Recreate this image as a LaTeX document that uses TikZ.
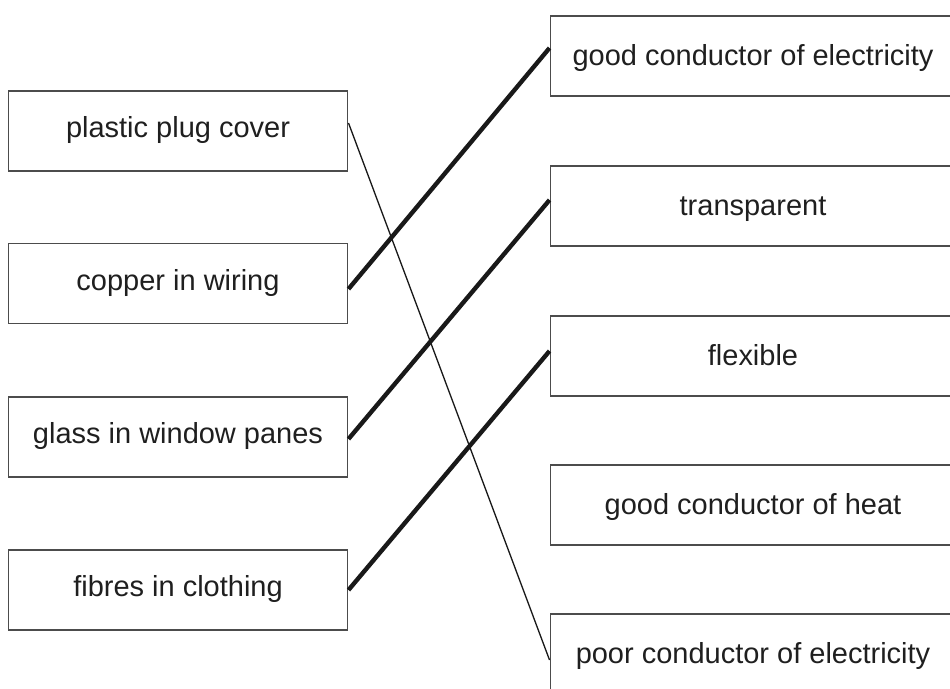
\documentclass[tikz,border=0pt]{standalone}
\usepackage{fontspec}
\setmainfont{Liberation Sans}
\usetikzlibrary{calc}
\tikzset{
	answerbox/.style={draw=black!70, line width=0.6pt, minimum height=1.6cm, inner sep=0pt,
		text height=11.9pt, text depth=4.5pt, text=black!88, font=\fontsize{16.5}{20}\selectfont},
	usebox/.style={answerbox, minimum width=6.8cm},
	propbox/.style={answerbox, minimum width=8.12cm, text depth=0.6pt},
	thinlink/.style={black!90, line width=0.75pt},
	thicklink/.style={black!90, line width=2.5pt}
}
\begin{document}
\begin{tikzpicture}[x=0.02cm, y=-0.02cm]
		\clip (0,0) rectangle (950,689);
		% uses on the left
		\node[usebox] (plastic) at (178,131) {plastic plug cover};
		\node[usebox] (copper) at (178,283.5) {copper in wiring};
		\node[usebox] (glass) at (178,437) {glass in window panes};
		\node[usebox] (fibres) at (178,590) {fibres in clothing};
		% properties on the right
		\node[propbox] (goodelec) at (753,56) {good conductor of electricity};
		\node[propbox] (transparent) at (753,206) {transparent};
		\node[propbox] (flexible) at (753,356) {flexible};
		\node[propbox] (goodheat) at (753,505) {good conductor of heat};
		\node[propbox] (poorelec) at (753,654) {poor conductor of electricity};
		% matching lines
		\draw[thinlink] ($(plastic.east)+(0,-8)$) -- ($(poorelec.west)+(0,6)$);
		\draw[thicklink] ($(copper.east)+(0,5.5)$) -- ($(goodelec.west)+(0,-8)$);
		\draw[thicklink] ($(glass.east)+(0,2)$) -- ($(transparent.west)+(0,-6)$);
		\draw[thicklink] (fibres.east) -- ($(flexible.west)+(0,-5)$);
	\end{tikzpicture}
\end{document}
